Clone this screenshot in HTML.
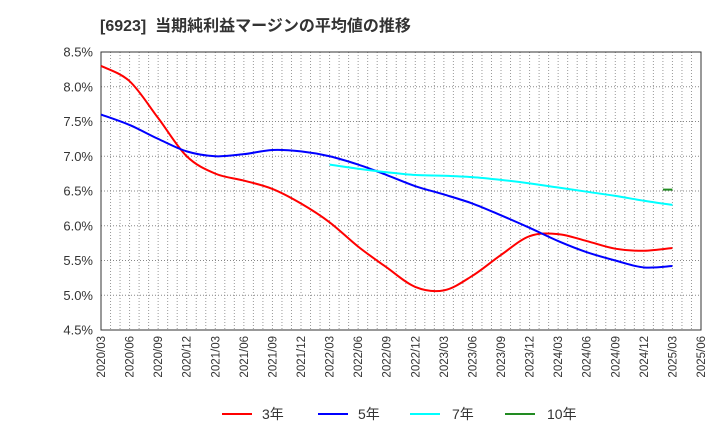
<!DOCTYPE html>
<html><head><meta charset="utf-8"><style>
body{margin:0;background:#fff;font-family:"Liberation Sans","Noto Sans CJK JP",sans-serif;}
</style></head><body>
<svg width="720" height="440" xmlns="http://www.w3.org/2000/svg" font-family="Liberation Sans, Noto Sans CJK JP, sans-serif">
<text x="100" y="31" font-size="16" font-weight="bold" fill="#333" xml:space="preserve">[6923]  当期純利益マージンの平均値の推移</text>
<g id="grid"></g><g id="axes"></g><g id="series"></g>
<g id="legend">
<line x1="222" y1="414" x2="252" y2="414" stroke="#f00" stroke-width="2"/>
<text x="262" y="419" font-size="14" fill="#333">3年</text>
<line x1="318" y1="414" x2="348" y2="414" stroke="#00f" stroke-width="2"/>
<text x="358" y="419" font-size="14" fill="#333">5年</text>
<line x1="410" y1="414" x2="440" y2="414" stroke="#0ff" stroke-width="2"/>
<text x="452" y="419" font-size="14" fill="#333">7年</text>
<line x1="505" y1="414" x2="535" y2="414" stroke="#228b22" stroke-width="2"/>
<text x="547" y="419" font-size="14" fill="#333">10年</text>
</g>
</svg>
<script>
const xLabels=["2020/03","2020/06","2020/09","2020/12","2021/03","2021/06","2021/09","2021/12","2022/03","2022/06","2022/09","2022/12","2023/03","2023/06","2023/09","2023/12","2024/03","2024/06","2024/09","2024/12","2025/03","2025/06"];
const yTicks=[4.5,5.0,5.5,6.0,6.5,7.0,7.5,8.0,8.5];
const months3=[0,3,6,9,12,15,18,21,24,27,30,33,36,39,42,45,48,51,54,57,60];
const vals3=[8.30,8.08,7.55,7.0,6.75,6.65,6.53,6.32,6.05,5.70,5.40,5.12,5.07,5.28,5.58,5.85,5.88,5.78,5.67,5.64,5.68];
const vals5=[7.60,7.45,7.25,7.07,7.00,7.03,7.09,7.07,7.00,6.88,6.73,6.57,6.45,6.32,6.15,5.97,5.78,5.62,5.50,5.40,5.42];
const months7=[24,27,30,33,36,39,42,45,48,51,54,57,60];
const vals7=[6.88,6.82,6.77,6.73,6.72,6.70,6.66,6.61,6.55,6.49,6.43,6.36,6.30];
const months10=[59,60];
const vals10=[6.52,6.52];
const X0=101,X1=701,Y0=330,Y1=52,NM=63;
const xs=m=>X0+(X1-X0)*m/NM;
const ys=v=>Y0-(Y0-Y1)*(v-4.5)/4;
const NS="http://www.w3.org/2000/svg";
function mk(t,a,p){const e=document.createElementNS(NS,t);for(const k in a)e.setAttribute(k,a[k]);p.appendChild(e);return e;}
const grid=document.getElementById('grid'),axes=document.getElementById('axes'),ser=document.getElementById('series');
for(let m=1;m<NM;m++){const l=mk('line',{x1:xs(m),x2:xs(m),y1:Y1,y2:Y0,stroke:'#999','stroke-dasharray':'1,2'},grid);

}
yTicks.forEach(v=>{const l=mk('line',{x1:X0,x2:X1,y1:ys(v),y2:ys(v),stroke:'#888','stroke-dasharray':'1,2'},grid);


const t=mk('text',{x:93,y:ys(v)+4.5,'text-anchor':'end','font-size':13,fill:'#333'},axes);t.textContent=v.toFixed(1)+'%';

});
const fr=mk('rect',{x:X0,y:Y1,width:X1-X0,height:Y0-Y1,fill:'none',stroke:'#333'},axes);


xLabels.forEach((s,i)=>{const x=xs(i*3);const t=mk('text',{x:0,y:0,transform:`translate(${x+4},336) rotate(-90)`,'text-anchor':'end','font-size':11.5,fill:'#333'},axes);t.textContent=s;

});
function path(ms,vs){const p=ms.map((m,i)=>[xs(m),ys(vs[i])]);let d=`M${p[0][0]},${p[0][1]}`;
for(let i=0;i<p.length-1;i++){const a=p[i-1]||p[i],b=p[i],c=p[i+1],e=p[i+2]||c;
d+=` C${b[0]+(c[0]-a[0])/6},${b[1]+(c[1]-a[1])/6} ${c[0]-(e[0]-b[0])/6},${c[1]-(e[1]-b[1])/6} ${c[0]},${c[1]}`;}return d;}
[[months3,vals3,'#f00','line-3y'],[months3,vals5,'#00f','line-5y'],[months7,vals7,'#0ff','line-7y'],[months10,vals10,'#228b22','line-10y']].forEach(s=>{
const e=mk('path',{d:path(s[0],s[1]),fill:'none',stroke:s[2],'stroke-width':2},ser);

});
</script>
</body></html>
